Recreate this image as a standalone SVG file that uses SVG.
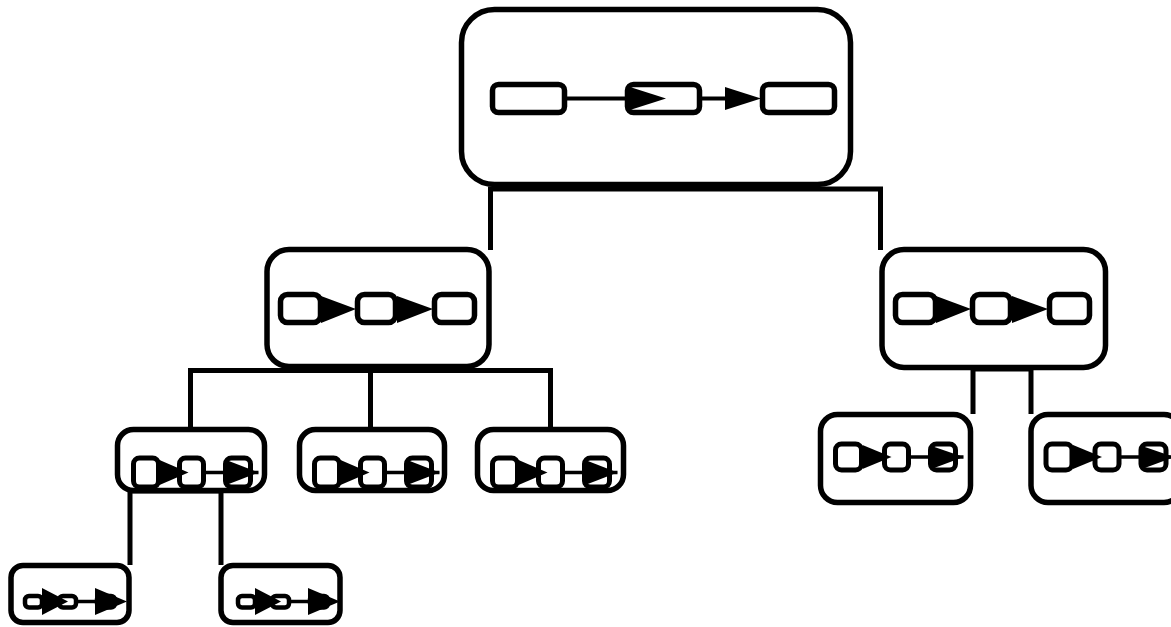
<svg xmlns="http://www.w3.org/2000/svg" width="1171" height="627" viewBox="0 0 1171 627">
<style>
.node{fill:#fff;stroke:#000;stroke-width:5.5}
.box{fill:#fff;stroke:#000;stroke-width:5.5}
.b3{fill:#fff;stroke:#000;stroke-width:5}
.b4{fill:#fff;stroke:#000;stroke-width:4.5}
.ln{fill:none;stroke:#000;stroke-width:4}
.l3{fill:none;stroke:#000;stroke-width:3.5}
.tri{fill:#000;stroke:none}
.conn{fill:none;stroke:#000;stroke-width:5}
</style>
<defs>
<g id="mid">
<rect class="box" x="280.5" y="294.5" width="40" height="28" rx="7"/>
<rect class="box" x="357.5" y="294.5" width="38" height="28" rx="7"/>
<rect class="box" x="434.5" y="294.5" width="40" height="28" rx="7"/>
<polygon class="tri" points="321,296 356,309 321,323"/>
<polygon class="tri" points="397,296 433,309 397,323"/>
</g>
<g id="l3">
<rect class="b3" x="15" y="-13" width="26" height="26" rx="6"/>
<rect class="b3" x="64" y="-13" width="24" height="26" rx="6"/>
<polygon class="tri" points="42,-12 71,0 42,12"/>
<line class="l3" x1="88" y1="0" x2="143" y2="0"/>
<rect class="b3" x="110" y="-13" width="25" height="26" rx="6"/>
<polygon class="tri" points="111,-11 143,0 111,12"/>
</g>
<g id="l3b">
<rect class="b3" x="16" y="-14.5" width="25" height="29" rx="6"/>
<rect class="b3" x="62" y="-14.5" width="24" height="29" rx="6"/>
<polygon class="tri" points="42,-12.5 71,0 42,12.5"/>
<line class="l3" x1="86" y1="0" x2="141" y2="0"/>
<rect class="b3" x="108" y="-14.5" width="25" height="29" rx="6"/>
<polygon class="tri" points="110,-12 141,0 110,12"/>
</g>
<g id="l4">
<rect class="b4" x="25" y="596" width="17" height="11.5" rx="4"/>
<rect class="b4" x="59" y="596" width="17" height="11.5" rx="4"/>
<polygon class="tri" points="42,588 68,601.5 42,615"/>
<line class="l3" x1="76" y1="601.5" x2="98" y2="601.5"/>
<rect class="b4" x="97" y="596" width="18" height="11.5" rx="4"/>
<polygon class="tri" points="95,588 127,601.5 95,615"/>
</g>
</defs>
<g id="connectors">
<path class="conn" d="M490.5 250 V189 H880.5 V250"/>
<path class="conn" d="M190.5 430 V370.5 H550.5 V430 M370.5 370.5 V430"/>
<path class="conn" d="M973 414 V369 H1031 V414"/>
<path class="conn" d="M130 565 V491 H221 V565"/>
</g>
<g id="n-root">
<rect class="node" x="461.5" y="9.5" width="389" height="175" rx="33"/>
<rect class="box" x="492.5" y="84.5" width="72" height="28" rx="6"/>
<line class="ln" x1="565" y1="98.5" x2="632" y2="98.5"/>
<rect class="box" x="627.5" y="84.5" width="72" height="28" rx="6"/>
<polygon class="tri" points="630,87 666,98.5 630,110"/>
<line class="ln" x1="700" y1="98.5" x2="730" y2="98.5"/>
<polygon class="tri" points="725,87 761,98.5 725,110"/>
<rect class="box" x="762.5" y="84.5" width="72" height="28" rx="6"/>
</g>
<g id="n-mid-left">
<rect class="node" x="267" y="249.5" width="222" height="117" rx="22"/>
<use href="#mid"/>
</g>
<g id="n-mid-right">
<rect class="node" x="882" y="249.5" width="223.5" height="118" rx="22"/>
<use href="#mid" transform="translate(615,0)"/>
</g>
<g id="n-l3-a">
<rect class="node" x="117.5" y="429.5" width="147" height="61" rx="16"/>
<use href="#l3b" transform="translate(117.5,472.5)"/>
</g>
<g id="n-l3-b">
<rect class="node" x="299.5" y="429.5" width="145" height="61" rx="16"/>
<use href="#l3b" transform="translate(298.5,472.5)"/>
</g>
<g id="n-l3-c">
<rect class="node" x="477.5" y="429.5" width="146" height="61" rx="16"/>
<use href="#l3b" transform="translate(476.5,472.5)"/>
</g>
<g id="n-l3-d">
<rect class="node" x="820.5" y="414.5" width="150" height="88" rx="17"/>
<use href="#l3" transform="translate(820.5,457)"/>
</g>
<g id="n-l3-e">
<rect class="node" x="1031" y="414.5" width="150" height="88" rx="17"/>
<use href="#l3" transform="translate(1031,457)"/>
</g>
<g id="n-l4-a">
<rect class="node" x="11" y="565.5" width="118" height="57" rx="12"/>
<use href="#l4"/>
</g>
<g id="n-l4-b">
<rect class="node" x="221" y="565.5" width="119" height="57" rx="12"/>
<use href="#l4" transform="translate(213,0)"/>
</g>
</svg>
